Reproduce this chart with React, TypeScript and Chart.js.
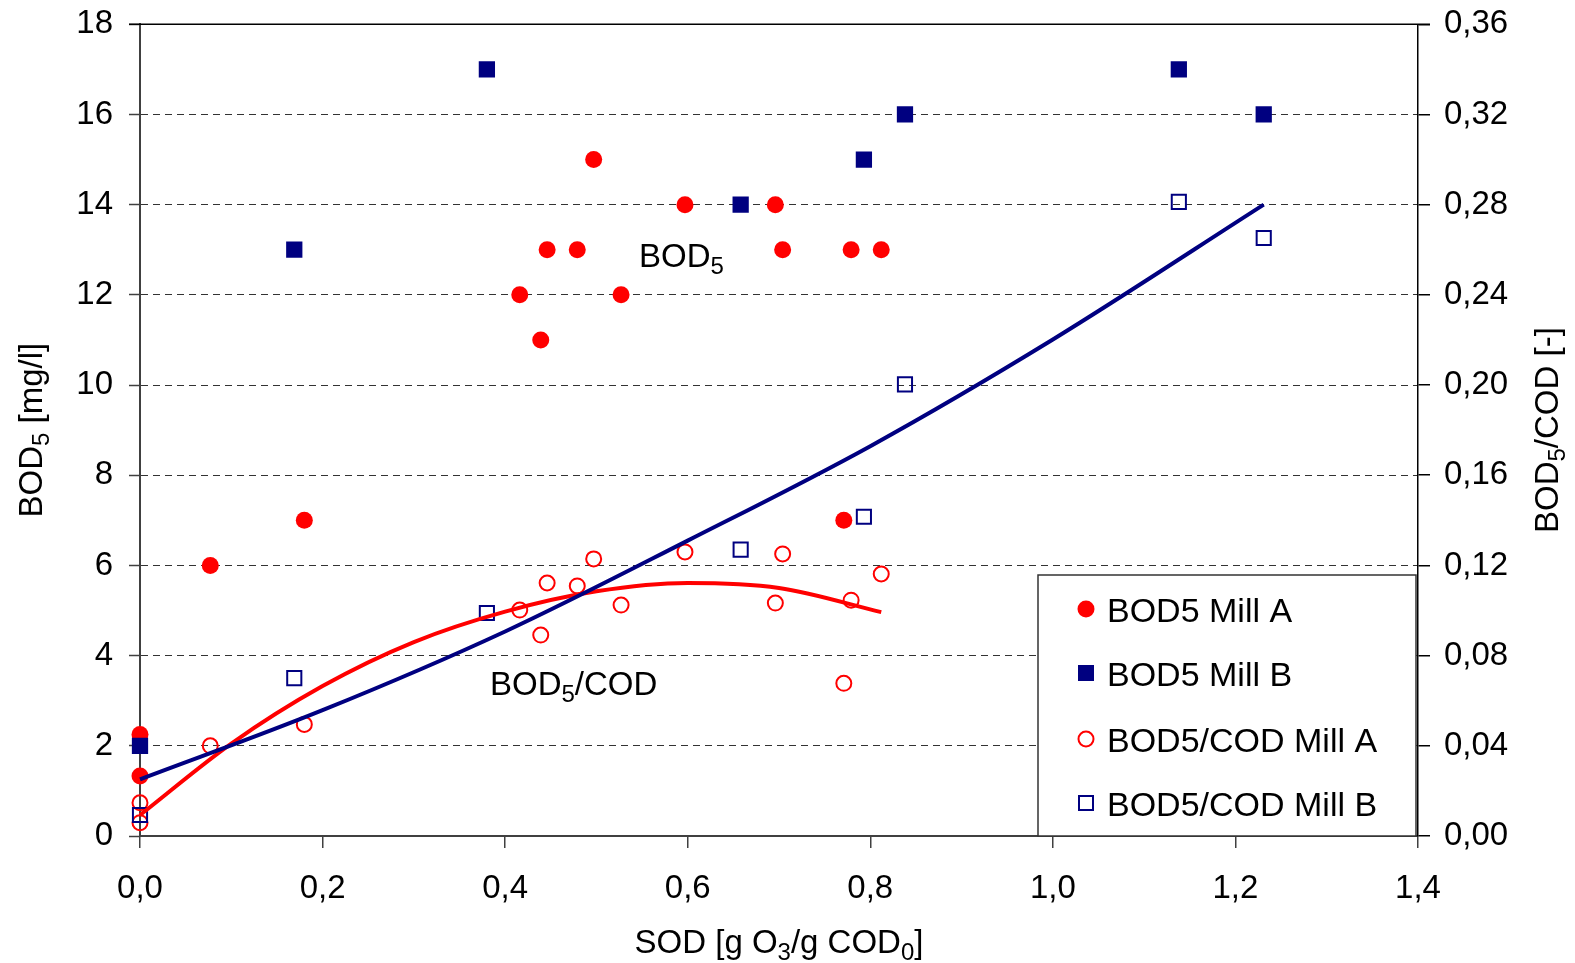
import React, { useEffect, useRef } from 'react';
import { Chart, registerables } from 'chart.js';

Chart.register(...registerables);

// Mill A samples
const millAX = [0, 0, 0.077, 0.18, 0.416, 0.439, 0.446, 0.479, 0.497, 0.527, 0.597, 0.696, 0.704, 0.771, 0.779, 0.812];
const bodMillA = [2.25, 1.33, 6, 7, 12, 11, 13, 13, 15, 12, 14, 14, 13, 7, 13, 13];
const ratioMillA = [0.0147, 0.0059, 0.04, 0.0495, 0.1002, 0.0891, 0.1122, 0.1109, 0.1229, 0.1024, 0.126, 0.1033, 0.1251, 0.0677, 0.1046, 0.1162];

// Mill B samples
const millBX = [0, 0.169, 0.38, 0.658, 0.793, 0.838, 1.138, 1.231];
const bodMillB = [2, 13, 17, 14, 15, 16, 17, 16];
const ratioMillB = [0.0093, 0.07, 0.0989, 0.127, 0.1416, 0.2003, 0.2812, 0.2652];

// Trend lines
const trendAX = [0, 0.1, 0.2, 0.3, 0.4, 0.5, 0.6, 0.7, 0.812];
const trendAY = [0.0093, 0.041, 0.0665, 0.086, 0.0995, 0.1085, 0.1122, 0.11, 0.0993];
const trendBX = [0, 0.2, 0.4, 0.6, 0.8, 1.0, 1.231];
const trendBY = [0.0251, 0.0558, 0.0907, 0.131, 0.1729, 0.2202, 0.28];

const legendLabels = ['BOD5 Mill A', 'BOD5 Mill B', 'BOD5/COD Mill A', 'BOD5/COD Mill B'];

const RED = '#FF0000';
const NAVY = '#000080';
const FONT = '"Liberation Sans", Arial, sans-serif';

const pts = (xs: number[], ys: number[]) => xs.map((x, i) => ({ x, y: ys[i] }));

type Part = [string, boolean];

function drawRich(ctx: CanvasRenderingContext2D, parts: Part[], x: number, y: number, align: 'left' | 'center', size: number) {
  const subSize = Math.round(size * 0.72);
  const widths = parts.map(([t, sub]) => {
    ctx.font = `${sub ? subSize : size}px ${FONT}`;
    return ctx.measureText(t).width;
  });
  const total = widths.reduce((a, b) => a + b, 0);
  let cx = align === 'center' ? x - total / 2 : x;
  ctx.textAlign = 'left';
  ctx.textBaseline = 'alphabetic';
  ctx.fillStyle = '#000';
  parts.forEach(([t, sub], i) => {
    ctx.font = `${sub ? subSize : size}px ${FONT}`;
    ctx.fillText(t, cx, sub ? y + 7 : y);
    cx += widths[i];
  });
}

const overlayPlugin = {
  id: 'overlay',
  afterDraw(chart: any) {
    const ctx: CanvasRenderingContext2D = chart.ctx;
    const area = chart.chartArea;
    ctx.save();
    // top border
    ctx.strokeStyle = '#000';
    ctx.lineWidth = 1.5;
    ctx.beginPath();
    ctx.moveTo(area.left - 11, area.top);
    ctx.lineTo(area.right + 12, area.top);
    ctx.stroke();

    // axis titles
    drawRich(ctx, [['SOD [g O', false], ['3', true], ['/g COD', false], ['0', true], [']', false]], (area.left + area.right) / 2, 953, 'center', 33);

    ctx.save();
    ctx.translate(42, (area.top + area.bottom) / 2);
    ctx.rotate(-Math.PI / 2);
    drawRich(ctx, [['BOD', false], ['5', true], [' [mg/l]', false]], 0, 0, 'center', 33);
    ctx.restore();

    ctx.save();
    ctx.translate(1558, (area.top + area.bottom) / 2);
    ctx.rotate(-Math.PI / 2);
    drawRich(ctx, [['BOD', false], ['5', true], ['/COD [-]', false]], 0, 0, 'center', 33);
    ctx.restore();

    // annotations
    drawRich(ctx, [['BOD', false], ['5', true]], 639, 267, 'left', 33);
    drawRich(ctx, [['BOD', false], ['5', true], ['/COD', false]], 490, 695, 'left', 33);

    // legend
    const bx = 1038, by = 575, bw = 378, bh = 261;
    ctx.fillStyle = '#fff';
    ctx.fillRect(bx, by, bw, bh);
    ctx.strokeStyle = '#333';
    ctx.lineWidth = 1.5;
    ctx.strokeRect(bx, by, bw, bh);
    const rows = [609, 673, 739, 803];
    legendLabels.forEach((label, i) => {
      const cy = rows[i];
      const mx = 1086;
      ctx.lineWidth = 2;
      if (i === 0) {
        ctx.fillStyle = RED;
        ctx.beginPath();
        ctx.arc(mx, cy, 8.5, 0, Math.PI * 2);
        ctx.fill();
      } else if (i === 1) {
        ctx.fillStyle = NAVY;
        ctx.fillRect(mx - 8, cy - 8, 16, 16);
      } else if (i === 2) {
        ctx.strokeStyle = RED;
        ctx.beginPath();
        ctx.arc(mx, cy, 7.5, 0, Math.PI * 2);
        ctx.stroke();
      } else {
        ctx.strokeStyle = NAVY;
        ctx.strokeRect(mx - 7, cy - 7, 14, 14);
      }
      ctx.fillStyle = '#000';
      ctx.font = `34px ${FONT}`;
      ctx.textAlign = 'left';
      ctx.textBaseline = 'alphabetic';
      ctx.fillText(label, 1107, cy + 13);
    });
    ctx.restore();
  },
};

export default function App() {
  const ref = useRef<HTMLCanvasElement>(null);
  useEffect(() => {
    document.body.style.margin = '0';
    const canvas = ref.current;
    if (!canvas) return;
    const tickFont = { family: FONT, size: 33 };
    const yTickFont = { family: FONT, size: 33, lineHeight: 0.5 };
    const chart = new Chart(canvas, {
      type: 'scatter',
      data: {
        datasets: [
          {
            type: 'line',
            label: 'trend B',
            data: pts(trendBX, trendBY),
            yAxisID: 'y2',
            borderColor: NAVY,
            borderWidth: 4,
            pointRadius: 0,
            showLine: true,
            tension: 0.4,
            cubicInterpolationMode: 'monotone',
            fill: false,
            clip: 12,
            order: 0,
          },
          {
            type: 'line',
            label: 'trend A',
            data: pts(trendAX, trendAY),
            yAxisID: 'y2',
            borderColor: RED,
            borderWidth: 4,
            pointRadius: 0,
            showLine: true,
            tension: 0.4,
            cubicInterpolationMode: 'monotone',
            fill: false,
            clip: 12,
            order: 0,
          },
          {
            label: legendLabels[1],
            data: pts(millBX, bodMillB),
            yAxisID: 'y',
            pointStyle: 'rect',
            pointRadius: 11.5,
            backgroundColor: NAVY,
            borderColor: NAVY,
            borderWidth: 0,
            clip: 12,
            order: 1,
          },
          {
            label: legendLabels[0],
            data: pts(millAX, bodMillA),
            yAxisID: 'y',
            pointStyle: 'circle',
            pointRadius: 8.5,
            backgroundColor: RED,
            borderColor: RED,
            borderWidth: 0,
            clip: 12,
            order: 2,
          },
          {
            label: legendLabels[3],
            data: pts(millBX, ratioMillB),
            yAxisID: 'y2',
            pointStyle: 'rect',
            pointRadius: 10,
            backgroundColor: 'rgba(0,0,0,0)',
            borderColor: NAVY,
            borderWidth: 2,
            clip: 12,
            order: 3,
          },
          {
            label: legendLabels[2],
            data: pts(millAX, ratioMillA),
            yAxisID: 'y2',
            pointStyle: 'circle',
            pointRadius: 7.5,
            backgroundColor: 'rgba(0,0,0,0)',
            borderColor: RED,
            borderWidth: 2,
            clip: 12,
            order: 4,
          },
        ] as any,
      },
      options: {
        responsive: false,
        animation: false,
        events: [],
        layout: { padding: { top: 23, left: 0, right: 0, bottom: 0 } },
        plugins: { legend: { display: false }, tooltip: { enabled: false }, title: { display: false } },
        scales: {
          x: {
            type: 'linear',
            min: 0,
            max: 1.4,
            afterFit: (s: any) => { s.height = 127; },
            ticks: {
              stepSize: 0.2,
              font: tickFont,
              color: '#000',
              padding: 21,
              maxRotation: 0,
              callback: (v: any) => Number(v).toFixed(1).replace('.', ','),
            },
            grid: { drawOnChartArea: false, drawTicks: true, tickLength: 12, color: '#404040', lineWidth: 1.5 },
            border: { display: true, color: '#404040', width: 2 },
          },
          y: {
            type: 'linear',
            position: 'left',
            min: 0,
            max: 18,
            afterFit: (s: any) => { s.width = 140; },
            ticks: {
              stepSize: 2,
              font: yTickFont,
              color: '#000',
              padding: 16,
            },
            grid: { color: '#333', lineWidth: 1, tickLength: 11, tickColor: '#404040', tickWidth: 1.5 },
            border: { display: true, color: '#404040', width: 2, dash: [7, 5] },
          },
          y2: {
            type: 'linear',
            position: 'right',
            min: 0,
            max: 0.36,
            afterFit: (s: any) => { s.width = 157; },
            ticks: {
              stepSize: 0.04,
              font: yTickFont,
              color: '#000',
              padding: 14,
              callback: (v: any) => Number(v).toFixed(2).replace('.', ','),
            },
            grid: { drawOnChartArea: false, tickLength: 12, color: '#000', lineWidth: 1.5 },
            border: { display: true, color: '#000', width: 1.5 },
          },
        },
      } as any,
      plugins: [overlayPlugin],
    });
    return () => chart.destroy();
  }, []);
  return (
    <div style={{ position: 'absolute', left: 0, top: 0, width: 1575, height: 963 }}>
      <canvas ref={ref} width={1575} height={963} style={{ width: 1575, height: 963, display: 'block' }} />
    </div>
  );
}
